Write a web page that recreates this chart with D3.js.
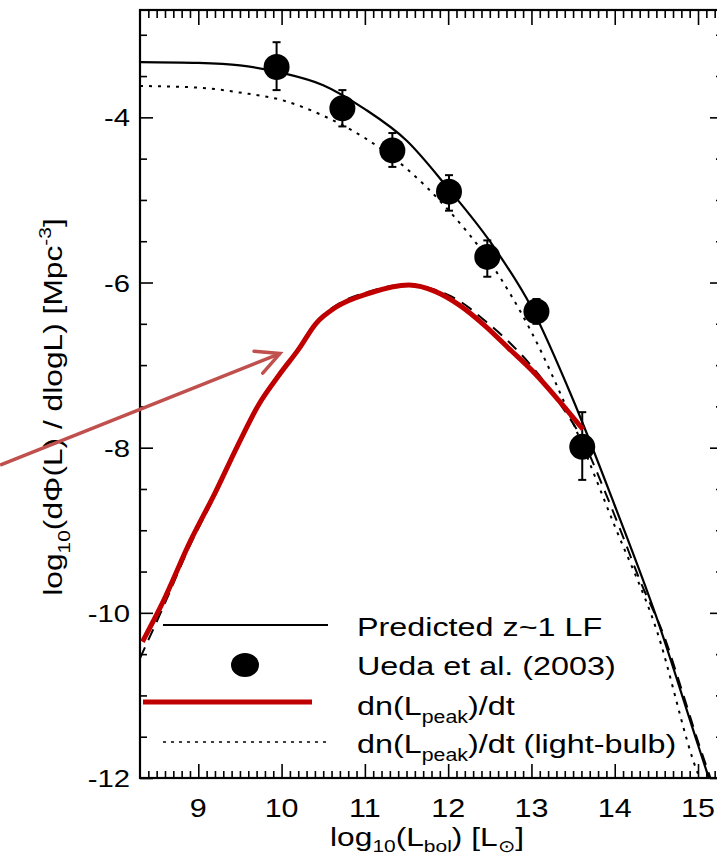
<!DOCTYPE html>
<html><head><meta charset="utf-8">
<script src="https://cdn.jsdelivr.net/npm/d3@7"></script>
<style>
body{margin:0;background:#fff}
svg{display:block}
text{font-family:"Liberation Sans",Arial,Helvetica,sans-serif;fill:#000}
</style>
</head><body>
<svg id="c" width="717" height="862"></svg>
<script>
// ---------------- data ----------------
const xTickValues = [9, 10, 11, 12, 13, 14, 15];
const yTickValues = [-4, -6, -8, -10, -12];

// Predicted z~1 LF (solid)
const lfX = [8.3, 9.0, 9.5, 10.0, 10.5, 11.0, 11.5, 12.0, 12.5, 13.0, 13.5, 14.0, 14.5, 15.0, 15.13];
const lfY = [-3.33, -3.34, -3.37, -3.46, -3.61, -3.90, -4.28, -4.86, -5.50, -6.30, -7.42, -8.70, -10.05, -11.60, -12.0];

// dn(Lpeak)/dt (light-bulb) (dotted)
const lbX = [8.3, 9.0, 9.5, 10.0, 10.5, 11.0, 11.5, 12.0, 12.5, 13.0, 13.5, 14.0, 14.5, 15.0, 15.02];
const lbY = [-3.62, -3.64, -3.70, -3.79, -3.98, -4.25, -4.62, -5.12, -5.75, -6.60, -7.70, -8.95, -10.20, -11.95, -12.0];

// dn(Lpeak)/dt original black dashed curve
const dashX = [8.3, 8.57, 8.91, 9.2, 9.47, 9.73, 9.97, 10.21, 10.41, 10.65, 11.05, 11.53, 11.85, 12.13, 12.45, 12.73, 13.05, 13.33, 13.62, 13.89, 14.05, 14.3, 14.61, 14.81, 15.03, 15.15];
const dashY = [-10.55, -9.95, -9.16, -8.58, -8.0, -7.49, -7.12, -6.78, -6.48, -6.28, -6.11, -6.02, -6.09, -6.22, -6.47, -6.72, -7.07, -7.45, -7.92, -8.55, -8.95, -9.6, -10.33, -10.95, -11.65, -12.0];

// dn(Lpeak)/dt red overlay
const dnX = [8.33, 8.57, 8.91, 9.2, 9.47, 9.73, 9.97, 10.21, 10.41, 10.65, 11.05, 11.53, 11.85, 12.13, 12.45, 12.73, 13.05, 13.33, 13.62];
const dnY = [-10.35, -9.88, -9.12, -8.55, -7.98, -7.47, -7.12, -6.80, -6.50, -6.30, -6.13, -6.03, -6.11, -6.27, -6.53, -6.80, -7.11, -7.43, -7.78];

// Ueda et al. (2003)
const uedaX  = [9.94, 10.73, 11.33, 12.01, 12.47, 13.06, 13.61];
const uedaY  = [-3.39, -3.89, -4.40, -4.90, -5.69, -6.35, -7.99];
const uedaHi = [-3.09, -3.67, -4.19, -4.70, -5.49, -6.20, -7.57];
const uedaLo = [-3.67, -4.11, -4.60, -5.13, -5.93, -6.50, -8.39];

// annotation arrow (data coords)
const arrowFrom = [6.62, -8.21];
const arrowTo   = [9.98, -6.86];

// ---------------- drawing ----------------
const svg = d3.select("#c");
const SX = 1.22; // horizontal stretch of glyphs in the original
const x = d3.scaleLinear().domain([8.3, 15.3]).range([140, 723]);
const y = d3.scaleLinear().domain([-12, -2.7]).range([778, 10]);

svg.append("rect").attr("width", 717).attr("height", 862).attr("fill", "#fff");
svg.append("clipPath").attr("id", "clip").append("rect")
  .attr("x", 140).attr("y", 10).attr("width", 583).attr("height", 768);

// ticks
function tickGroup(axis, tx, ty) {
  const g = svg.append("g").attr("transform", `translate(${tx},${ty})`).call(axis);
  g.select(".domain").remove();
  g.selectAll("line").attr("stroke", "#000").attr("stroke-width", 1.6);
  g.selectAll("text").remove();
}
const xMinor = d3.range(84, 153).map(d => d / 10).filter(v => v % 1 !== 0);
const yMinor = d3.range(-23, -5).map(d => d / 2).filter(v => !yTickValues.includes(v));

tickGroup(d3.axisTop(x).tickValues(xTickValues).tickSize(14).tickSizeOuter(0), 0, 778);
tickGroup(d3.axisTop(x).tickValues(xMinor).tickSize(7).tickSizeOuter(0), 0, 778);
tickGroup(d3.axisBottom(x).tickValues(xTickValues).tickSize(15).tickSizeOuter(0), 0, 10);
tickGroup(d3.axisBottom(x).tickValues(xMinor).tickSize(8).tickSizeOuter(0), 0, 10);
tickGroup(d3.axisRight(y).tickValues(yTickValues).tickSize(13).tickSizeOuter(0), 140, 0);
tickGroup(d3.axisRight(y).tickValues(yMinor).tickSize(7).tickSizeOuter(0), 140, 0);
tickGroup(d3.axisLeft(y).tickValues(yTickValues).tickSize(13).tickSizeOuter(0), 723, 0);
tickGroup(d3.axisLeft(y).tickValues(yMinor).tickSize(7).tickSizeOuter(0), 723, 0);

svg.append("rect").attr("x", 140).attr("y", 10).attr("width", 583).attr("height", 768)
  .attr("fill", "none").attr("stroke", "#000").attr("stroke-width", 2.2);

// stretched text helper
function stext(px, py, parts, size, anchor, rot, subShift) {
  const t = svg.append("text")
    .attr("transform", `translate(${px},${py})` + (rot ? ` rotate(${rot})` : "") + ` scale(${SX},1)`)
    .attr("font-size", size).attr("text-anchor", anchor || "start");
  let off = 0;
  const ss = subShift == null ? 0.32 : subShift;
  parts.forEach(p => {
    const [str, kind] = Array.isArray(p) ? p : [p, "n"];
    let target = 0, fs = size;
    if (kind === "sub") { target = size * ss; fs = size * 0.66; }
    if (kind === "sup") { target = -size * 0.42; fs = size * 0.66; }
    t.append("tspan").attr("dy", target - off).attr("font-size", fs).text(str);
    off = target;
  });
  return t;
}

// tick labels
xTickValues.forEach(v => stext(x(v), 817, [String(v)], 25, "middle"));
yTickValues.forEach(v => stext(130, y(v) + 9, [String(v)], 24, "end"));

// axis titles
stext(427, 846, ["log", ["10", "sub"], "(L", ["bol", "sub"], ") [L", ["\u2299", "sub"], "]"], 26, "middle", 0, 0.22);
stext(62, 407, ["log", ["10", "sub"], "(d\u03A6(L) / dlogL)  [Mpc", ["-3", "sup"], "]"], 26, "middle", -90);

// curves
const plot = svg.append("g").attr("clip-path", "url(#clip)");
const line = d3.line().x(d => x(d[0])).y(d => y(d[1])).curve(d3.curveMonotoneX);
const zip = (a, b) => a.map((v, i) => [v, b[i]]);

plot.append("path").attr("d", line(zip(lbX, lbY))).attr("fill", "none")
  .attr("stroke", "#000").attr("stroke-width", 2).attr("stroke-dasharray", "3,6");
plot.append("path").attr("d", line(zip(dashX, dashY))).attr("fill", "none")
  .attr("stroke", "#000").attr("stroke-width", 2).attr("stroke-dasharray", "12,8");
plot.append("path").attr("d", line(zip(lfX, lfY))).attr("fill", "none")
  .attr("stroke", "#000").attr("stroke-width", 2.2);

// data points
const pts = uedaX.map((v, i) => ({x: v, y: uedaY[i], hi: uedaHi[i], lo: uedaLo[i]}));
const pg = plot.append("g");
pts.forEach(d => {
  const cx = x(d.x);
  pg.append("line").attr("x1", cx).attr("x2", cx).attr("y1", y(d.hi)).attr("y2", y(d.lo))
    .attr("stroke", "#000").attr("stroke-width", 2);
  [d.hi, d.lo].forEach(e => pg.append("line").attr("x1", cx - 4).attr("x2", cx + 4)
    .attr("y1", y(e)).attr("y2", y(e)).attr("stroke", "#000").attr("stroke-width", 2));
  pg.append("circle").attr("cx", cx).attr("cy", y(d.y)).attr("r", 13).attr("fill", "#000");
});

// red overlay
plot.append("path").attr("d", line(zip(dnX, dnY))).attr("fill", "none")
  .attr("stroke", "#c00000").attr("stroke-width", 5).attr("stroke-linecap", "butt");

// legend
const lg = svg.append("g");
lg.append("line").attr("x1", 163).attr("x2", 328).attr("y1", 625).attr("y2", 625)
  .attr("stroke", "#000").attr("stroke-width", 2);
lg.append("ellipse").attr("cx", 245).attr("cy", 665).attr("rx", 14).attr("ry", 12).attr("fill", "#000");
lg.append("line").attr("x1", 143).attr("x2", 312).attr("y1", 702).attr("y2", 702)
  .attr("stroke", "#c00000").attr("stroke-width", 5);
lg.append("line").attr("x1", 163).attr("x2", 328).attr("y1", 742).attr("y2", 742)
  .attr("stroke", "#000").attr("stroke-width", 1.6).attr("stroke-dasharray", "3,5");
stext(357, 636, ["Predicted z~1 LF"], 26.5, "start");
stext(357, 675, ["Ueda et al. (2003)"], 26.5, "start");
stext(357, 715, ["dn(L", ["peak", "sub"], ")/dt"], 26.5, "start");
stext(357, 753, ["dn(L", ["peak", "sub"], ")/dt (light-bulb)"], 26.5, "start");

// arrow
const ax0 = x(arrowFrom[0]), ay0 = y(arrowFrom[1]), ax1 = x(arrowTo[0]), ay1 = y(arrowTo[1]);
const ang = Math.atan2(ay1 - ay0, ax1 - ax0);
const L = 26, spread = 27 * Math.PI / 180;
const arm = s => [ax1 - L * Math.cos(ang + s), ay1 - L * Math.sin(ang + s)];
const a1 = arm(spread), a2 = arm(-spread);
svg.append("path").attr("d", `M${ax0},${ay0}L${ax1},${ay1}`)
  .attr("stroke", "#c0504d").attr("stroke-width", 3.5).attr("fill", "none");
svg.append("path").attr("d", `M${a1[0]},${a1[1]}L${ax1},${ay1}L${a2[0]},${a2[1]}`)
  .attr("stroke", "#c0504d").attr("stroke-width", 3.5).attr("fill", "none")
  .attr("stroke-linecap", "round").attr("stroke-linejoin", "miter");
</script>
</body></html>
